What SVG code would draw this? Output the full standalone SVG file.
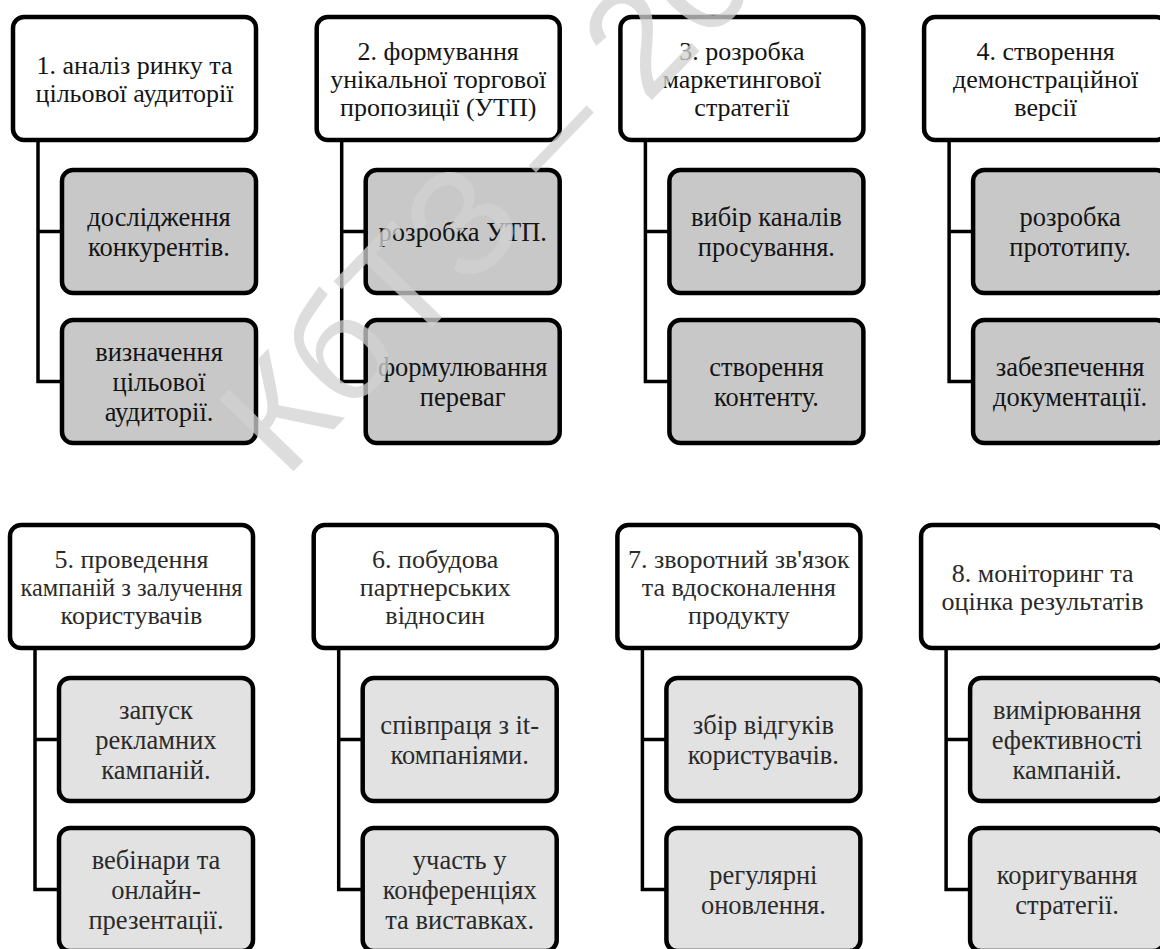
<svg xmlns="http://www.w3.org/2000/svg" width="1160" height="949" viewBox="0 0 1160 949">
<style>
.hdr{fill:#ffffff;stroke:#000;stroke-width:4.5}
.c1{fill:#c8c8c8;stroke:#000;stroke-width:4.5}
.c2{fill:#e2e2e2;stroke:#000;stroke-width:4.5}
.conn{fill:none;stroke:#000;stroke-width:3.5}
text{font-family:"Liberation Serif","DejaVu Serif",serif;text-anchor:middle;fill:#141414}
.th{font-size:26px}
.tc{font-size:26.5px}
.b text{fill:#2a2a2a}
.wm{font-family:"Liberation Sans","DejaVu Sans",sans-serif;font-size:150px;fill:#d2d2d2;opacity:0.75;text-anchor:start}
</style>
<rect width="1160" height="949" fill="#fff"/>
<g id="connectors">
<path class="conn" d="M38 140V381.5H62M38 231.5H62"/>
<path class="conn" d="M341.7 140V381.5H365.7M341.7 231.5H365.7"/>
<path class="conn" d="M645.4 140V381.5H669.4M645.4 231.5H669.4"/>
<path class="conn" d="M949.1 140V381.5H973.1M949.1 231.5H973.1"/>
<path class="conn" d="M35 648V889.5H59M35 739.5H59"/>
<path class="conn" d="M338.7 648V889.5H362.7M338.7 739.5H362.7"/>
<path class="conn" d="M642.4 648V889.5H666.4M642.4 739.5H666.4"/>
<path class="conn" d="M946.1 648V889.5H970.1M946.1 739.5H970.1"/>
</g>
<!-- top row -->
<g id="h1" transform="translate(13,17)"><rect class="hdr" width="243" height="123" rx="11"/>
<text class="th" x="121.5" y="56.6">1. аналіз ринку та</text><text class="th" x="121.5" y="84.6">цільової аудиторії</text></g>
<g id="h1a" transform="translate(62,170)"><rect class="c1" width="194" height="123" rx="11"/>
<text class="tc" x="97" y="55.8">дослідження</text><text class="tc" x="97" y="85.8">конкурентів.</text></g>
<g id="h1b" transform="translate(62,320)"><rect class="c1" width="194" height="123" rx="11"/>
<text class="tc" x="97" y="40.8">визначення</text><text class="tc" x="97" y="70.8">цільової</text><text class="tc" x="97" y="100.8">аудиторії.</text></g>

<g id="h2" transform="translate(316.7,17)"><rect class="hdr" width="243" height="123" rx="11"/>
<text class="th" x="121.5" y="42.6">2. формування</text><text class="th" x="121.5" y="70.6">унікальної торгової</text><text class="th" x="121.5" y="98.6">пропозиції (УТП)</text></g>
<g id="h2a" transform="translate(365.7,170)"><rect class="c1" width="194" height="123" rx="11"/>
<text class="tc" x="97" y="70.8">розробка УТП.</text></g>
<g id="h2b" transform="translate(365.7,320)"><rect class="c1" width="194" height="123" rx="11"/>
<text class="tc" x="97" y="55.8">формулювання</text><text class="tc" x="97" y="85.8">переваг</text></g>

<g id="h3" transform="translate(620.4,17)"><rect class="hdr" width="243" height="123" rx="11"/>
<text class="th" x="121.5" y="42.6">3. розробка</text><text class="th" x="121.5" y="70.6">маркетингової</text><text class="th" x="121.5" y="98.6">стратегії</text></g>
<g id="h3a" transform="translate(669.4,170)"><rect class="c1" width="194" height="123" rx="11"/>
<text class="tc" x="97" y="55.8">вибір каналів</text><text class="tc" x="97" y="85.8">просування.</text></g>
<g id="h3b" transform="translate(669.4,320)"><rect class="c1" width="194" height="123" rx="11"/>
<text class="tc" x="97" y="55.8">створення</text><text class="tc" x="97" y="85.8">контенту.</text></g>

<g id="h4" transform="translate(924.1,17)"><rect class="hdr" width="243" height="123" rx="11"/>
<text class="th" x="121.5" y="42.6">4. створення</text><text class="th" x="121.5" y="70.6">демонстраційної</text><text class="th" x="121.5" y="98.6">версії</text></g>
<g id="h4a" transform="translate(973.1,170)"><rect class="c1" width="194" height="123" rx="11"/>
<text class="tc" x="97" y="55.8">розробка</text><text class="tc" x="97" y="85.8">прототипу.</text></g>
<g id="h4b" transform="translate(973.1,320)"><rect class="c1" width="194" height="123" rx="11"/>
<text class="tc" x="97" y="55.8">забезпечення</text><text class="tc" x="97" y="85.8">документації.</text></g>

<!-- bottom row -->
<g class="b">
<g id="h5" transform="translate(10,525)"><rect class="hdr" width="243" height="123" rx="11"/>
<text class="th" x="121.5" y="42.6">5. проведення</text><text class="th" x="121.5" y="70.6" textLength="222" lengthAdjust="spacingAndGlyphs">кампаній з залучення</text><text class="th" x="121.5" y="98.6">користувачів</text></g>
<g id="h5a" transform="translate(59,678)"><rect class="c2" width="194" height="123" rx="11"/>
<text class="tc" x="97" y="40.8">запуск</text><text class="tc" x="97" y="70.8">рекламних</text><text class="tc" x="97" y="100.8">кампаній.</text></g>
<g id="h5b" transform="translate(59,828)"><rect class="c2" width="194" height="123" rx="11"/>
<text class="tc" x="97" y="40.8">вебінари та</text><text class="tc" x="97" y="70.8">онлайн-</text><text class="tc" x="97" y="100.8">презентації.</text></g>

<g id="h6" transform="translate(313.7,525)"><rect class="hdr" width="243" height="123" rx="11"/>
<text class="th" x="121.5" y="42.6">6. побудова</text><text class="th" x="121.5" y="70.6">партнерських</text><text class="th" x="121.5" y="98.6">відносин</text></g>
<g id="h6a" transform="translate(362.7,678)"><rect class="c2" width="194" height="123" rx="11"/>
<text class="tc" x="97" y="55.8">співпраця з it-</text><text class="tc" x="97" y="85.8">компаніями.</text></g>
<g id="h6b" transform="translate(362.7,828)"><rect class="c2" width="194" height="123" rx="11"/>
<text class="tc" x="97" y="40.8">участь у</text><text class="tc" x="97" y="70.8">конференціях</text><text class="tc" x="97" y="100.8">та виставках.</text></g>

<g id="h7" transform="translate(617.4,525)"><rect class="hdr" width="243" height="123" rx="11"/>
<text class="th" x="121.5" y="42.6">7. зворотний зв'язок</text><text class="th" x="121.5" y="70.6">та вдосконалення</text><text class="th" x="121.5" y="98.6">продукту</text></g>
<g id="h7a" transform="translate(666.4,678)"><rect class="c2" width="194" height="123" rx="11"/>
<text class="tc" x="97" y="55.8">збір відгуків</text><text class="tc" x="97" y="85.8">користувачів.</text></g>
<g id="h7b" transform="translate(666.4,828)"><rect class="c2" width="194" height="123" rx="11"/>
<text class="tc" x="97" y="55.8">регулярні</text><text class="tc" x="97" y="85.8">оновлення.</text></g>

<g id="h8" transform="translate(921.1,525)"><rect class="hdr" width="243" height="123" rx="11"/>
<text class="th" x="121.5" y="56.6">8. моніторинг та</text><text class="th" x="121.5" y="84.6">оцінка результатів</text></g>
<g id="h8a" transform="translate(970.1,678)"><rect class="c2" width="194" height="123" rx="11"/>
<text class="tc" x="97" y="40.8">вимірювання</text><text class="tc" x="97" y="70.8">ефективності</text><text class="tc" x="97" y="100.8">кампаній.</text></g>
<g id="h8b" transform="translate(970.1,828)"><rect class="c2" width="194" height="123" rx="11"/>
<text class="tc" x="97" y="55.8">коригування</text><text class="tc" x="97" y="85.8">стратегії.</text></g>
</g>

<g id="watermark"><text class="wm" transform="translate(285,480) rotate(-46)">КбТЗ – 2024</text></g>
</svg>
